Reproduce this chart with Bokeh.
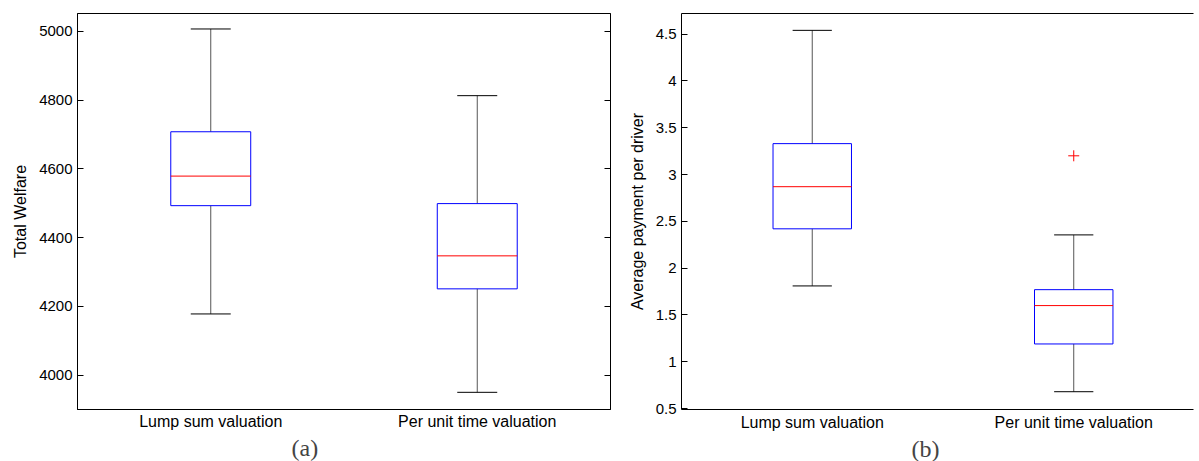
from bokeh.plotting import figure
from bokeh.layouts import row
from bokeh.models import (FixedTicker, LinearAxis, Range1d, Title,
                          CustomJSTickFormatter, ColumnDataSource)
from bokeh.embed import file_html
from bokeh.resources import INLINE

# ---------------- data ----------------
categories = ["Lump sum valuation", "Per unit time valuation"]
positions = [1, 2]

# panel (a): Total Welfare
welfare_lower = [4178, 3950]
welfare_q1 = [4493, 4251]
welfare_median = [4579, 4347]
welfare_q3 = [4708, 4499]
welfare_upper = [5007, 4813]
welfare_ticks = [4000, 4200, 4400, 4600, 4800, 5000]

# panel (b): Average payment per driver
pay_lower = [1.81, 0.68]
pay_q1 = [2.42, 1.19]
pay_median = [2.87, 1.60]
pay_q3 = [3.33, 1.77]
pay_upper = [4.54, 2.355]
pay_outlier_x = [2]
pay_outlier_y = [3.2]
pay_ticks = [0.5, 1, 1.5, 2, 2.5, 3, 3.5, 4, 4.5]

FONT = "Liberation Sans"
BOX_W = 0.30
CAP_W = 0.15


def draw_boxes(p, lower, q1, med, q3, upper):
    src = ColumnDataSource(dict(
        x=positions,
        left=[x - BOX_W / 2 for x in positions],
        right=[x + BOX_W / 2 for x in positions],
        cl=[x - CAP_W / 2 for x in positions],
        cr=[x + CAP_W / 2 for x in positions],
        lower=lower, q1=q1, med=med, q3=q3, upper=upper,
    ))
    p.segment(x0="x", x1="x", y0="q3", y1="upper", source=src,
              line_color="#555555", line_width=1)
    p.segment(x0="x", x1="x", y0="lower", y1="q1", source=src,
              line_color="#555555", line_width=1)
    p.segment(x0="cl", x1="cr", y0="upper", y1="upper", source=src,
              line_color="black", line_width=1)
    p.segment(x0="cl", x1="cr", y0="lower", y1="lower", source=src,
              line_color="black", line_width=1)
    p.quad(left="left", right="right", bottom="q1", top="q3", source=src,
           fill_color=None, line_color="#0000ff", line_width=1)
    p.segment(x0="left", x1="right", y0="med", y1="med", source=src,
              line_color="#ff0000", line_width=1)


def style(p, ticks, label, xstandoff, fmt=None):
    p.xgrid.visible = False
    p.ygrid.visible = False
    xa = p.xaxis[0]
    xa.ticker = FixedTicker(ticks=positions)
    xa.major_label_overrides = {pos: c for pos, c in zip(positions, categories)}
    xa.major_tick_in = 0
    xa.major_tick_out = 0
    xa.minor_tick_line_color = None
    xa.axis_line_color = "black"
    xa.major_label_text_font = FONT
    xa.major_label_text_font_size = "16px"
    xa.major_label_text_color = "black"
    xa.major_label_standoff = xstandoff
    ya = p.yaxis[0]
    ya.ticker = FixedTicker(ticks=ticks)
    if fmt is not None:
        ya.formatter = fmt
    ya.major_tick_in = 6
    ya.major_tick_out = 0
    ya.minor_tick_line_color = None
    ya.axis_line_color = "black"
    ya.major_tick_line_color = "black"
    ya.major_label_text_font = FONT
    ya.major_label_text_font_size = "15px"
    ya.major_label_text_color = "black"
    ya.major_label_standoff = 5
    ya.axis_label = label
    ya.axis_label_text_font = FONT
    ya.axis_label_text_font_size = "16px"
    ya.axis_label_text_font_style = "normal"
    ya.axis_label_text_color = "black"
    ya.axis_label_standoff = 7


blank = CustomJSTickFormatter(code="return '';")

# ---------------- panel (a) ----------------
p1 = figure(width=620, height=461, output_backend="svg", toolbar_location=None,
            x_range=Range1d(0.5, 2.5), y_range=Range1d(3900, 5052),
            min_border_left=77, min_border_right=10, min_border_top=13,
            min_border_bottom=50)
p1.outline_line_color = "black"
p1.outline_line_width = 1
style(p1, welfare_ticks, "Total Welfare", 3)
draw_boxes(p1, welfare_lower, welfare_q1, welfare_median, welfare_q3, welfare_upper)
ra = LinearAxis(ticker=FixedTicker(ticks=welfare_ticks), major_tick_in=6,
                major_tick_out=0, minor_tick_line_color=None,
                formatter=blank, major_label_standoff=0,
                axis_line_color="black")
p1.add_layout(ra, "right")
t1 = Title(text="(a)", align="left", offset=214, text_font="Liberation Serif",
           text_font_size="24px", text_font_style="normal", standoff=0)
p1.add_layout(t1, "below")

# ---------------- panel (b) ----------------
p2 = figure(width=579, height=461, output_backend="svg", toolbar_location=None,
            x_range=Range1d(0.5, 2.458), y_range=Range1d(0.49, 4.72),
            min_border_left=61, min_border_right=6, min_border_top=13,
            min_border_bottom=52)
p2.outline_line_color = None
style(p2, pay_ticks, "Average payment per driver", 4,
      fmt=CustomJSTickFormatter(code="return String(tick);"))
draw_boxes(p2, pay_lower, pay_q1, pay_median, pay_q3, pay_upper)
p2.scatter(x=pay_outlier_x, y=pay_outlier_y, marker="cross", size=11,
           line_color="#ff0000", line_width=1)
ta = LinearAxis(ticker=FixedTicker(ticks=[]), major_tick_in=0,
                major_tick_out=0, minor_tick_line_color=None,
                formatter=blank, major_label_standoff=0,
                axis_line_color="black")
p2.add_layout(ta, "above")
t2 = Title(text="(b)", align="left", offset=230, text_font="Liberation Serif",
           text_font_size="24px", text_font_style="normal", standoff=0)
p2.add_layout(t2, "below")

layout = row(p1, p2)
open("out.html", "w").write(file_html(layout, INLINE))
